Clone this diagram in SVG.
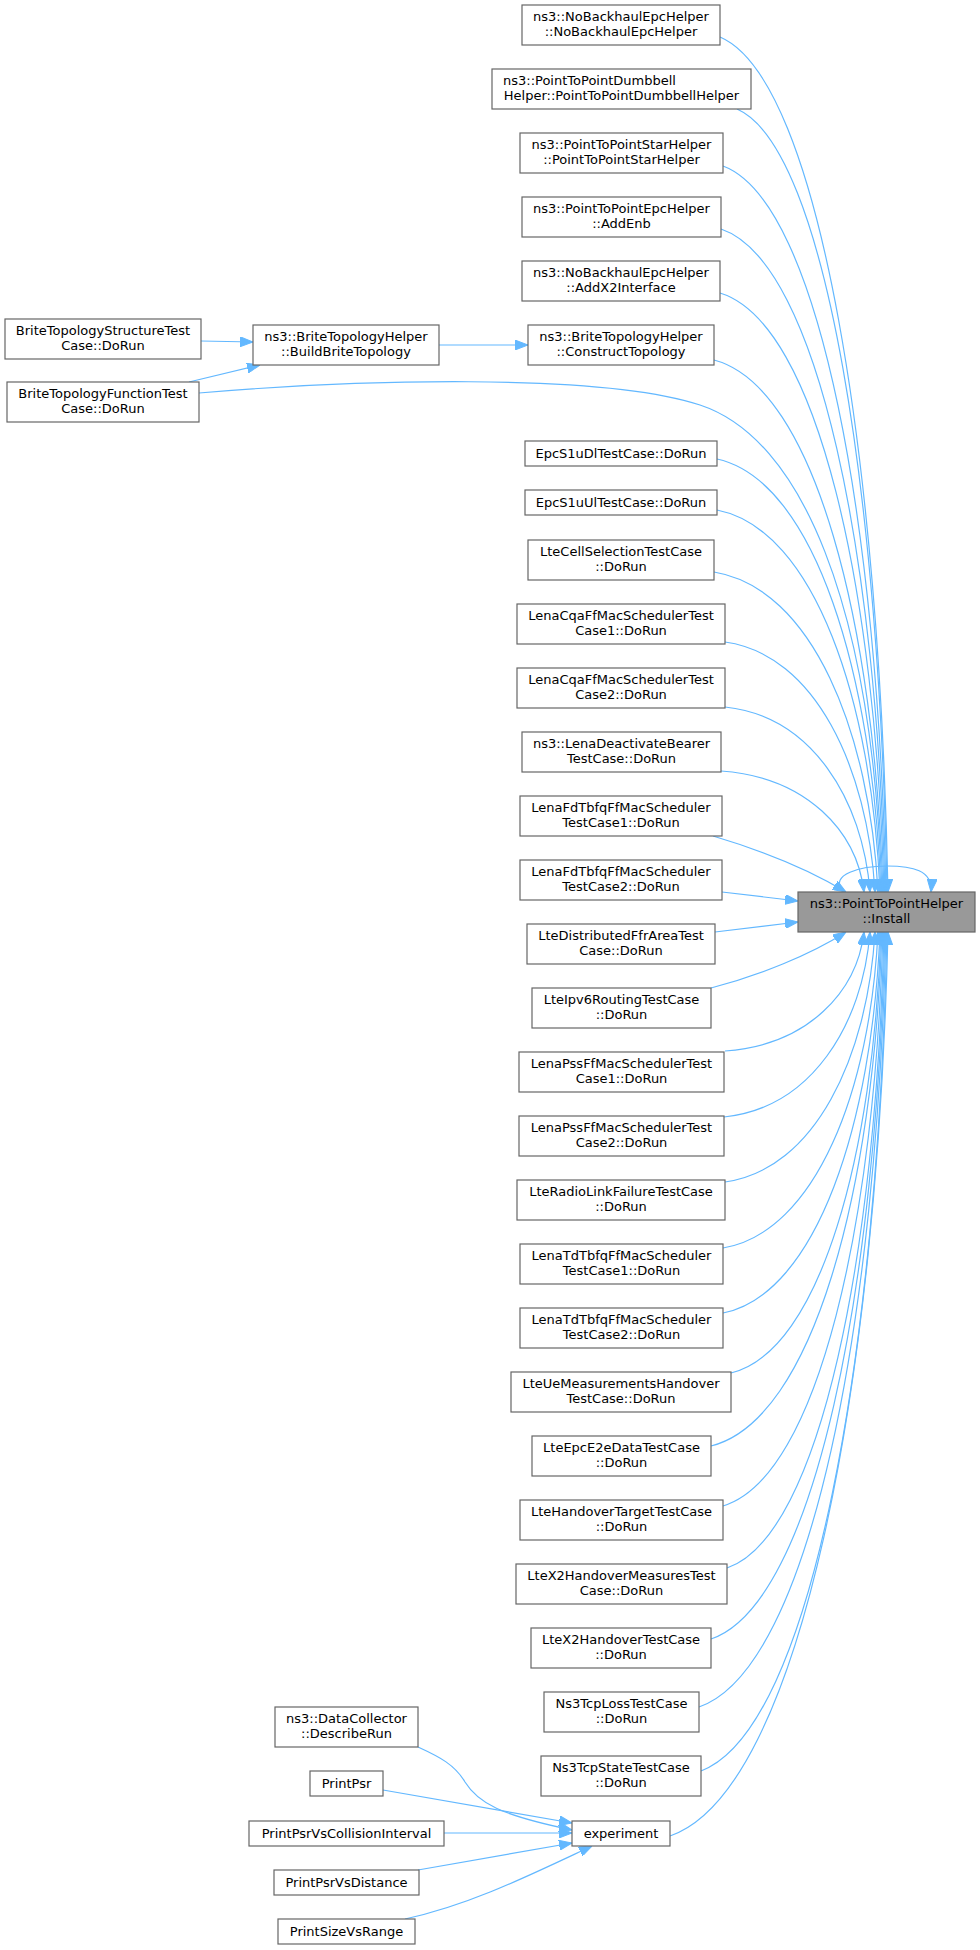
<svg xmlns="http://www.w3.org/2000/svg" width="980" height="1950" viewBox="0 0 980 1950">
<style>
.node rect{fill:#ffffff;stroke:#666666;stroke-width:1.2}
#n_install rect{fill:#999999;stroke:#666666}
text{font-family:"DejaVu Sans","Liberation Sans",sans-serif;font-size:13px;fill:#000;text-anchor:middle}
.edges path{fill:none;stroke:#63b8ff;stroke-width:1.2;marker-end:url(#ah)}
</style>
<defs>
<marker id="ah" markerUnits="userSpaceOnUse" markerWidth="13" markerHeight="10" refX="13" refY="5" orient="auto">
<path d="M0,0 L13,5 L0,10 z" fill="#63b8ff" stroke="#63b8ff" stroke-width="1"/>
</marker>
</defs>
<rect width="980" height="1950" fill="#ffffff"/>
<g class="edges">
<path d="M720,37 C820.8,79.8 879.6,464.5 888,892"/>
<path d="M737,109 C827,148.2 879.5,500.5 887,892"/>
<path d="M723,166 C820.8,202.3 877.9,529 886,892"/>
<path d="M721,229 C819.4,262.2 876.8,560.5 885,892"/>
<path d="M720,293 C818.4,323 875.8,592.5 884,892"/>
<path d="M714,360 C815.4,386.6 874.6,626 883,892"/>
<path d="M199,393 C350,380 600,372 700,405 C800,438 872,600 882,892"/>
<path d="M717,459 C815.4,480.7 872.8,675.5 881,892"/>
<path d="M717,510 C814.8,529.1 871.9,701 880,892"/>
<path d="M714,572 C812.4,588 869.8,732 878,892"/>
<path d="M725,642 C815,654.5 867.5,767 875,892"/>
<path d="M725,707 C812,716.3 862.8,799.5 870,892"/>
<path d="M721,771 C806.8,777 856.9,831.5 864,892"/>
<path d="M713,836 C760,850 810,870 846,892"/>
<path d="M722,892 L798,901"/>
<path d="M715,932 L798,922"/>
<path d="M711,988 C760,975 810,955 846,932"/>
<path d="M725,1051 C808.4,1045 857,991.5 864,932"/>
<path d="M724,1117 C811.6,1107.8 862.7,1024.5 870,932"/>
<path d="M725,1182 C815,1169.5 867.5,1057 875,932"/>
<path d="M723,1248 C816,1232.2 870.3,1090 878,932"/>
<path d="M723,1313 C817.2,1294 872.2,1122.5 880,932"/>
<path d="M731,1373 C821,1351 873.5,1152.5 881,932"/>
<path d="M711,1446 C813.6,1420.3 873.5,1189 882,932"/>
<path d="M723,1506 C819,1477.3 875,1219 883,932"/>
<path d="M727,1568 C821.2,1536.2 876.2,1250 884,932"/>
<path d="M711,1639 C815.4,1603.7 876.3,1285.5 885,932"/>
<path d="M699,1707 C811.2,1668.3 876.7,1319.5 886,932"/>
<path d="M701,1771 C812.6,1729 877.7,1351.5 887,932"/>
<path d="M670,1836 C800.8,1790.8 877.1,1384 888,932"/>
<path d="M843,892 C828,874 862,866 887,866 C912,866 933,870 931,892"/>
<path d="M201,341 L253,342"/>
<path d="M189,382 L260,365"/>
<path d="M439,345 L528,345"/>
<path d="M418,1747 C440,1757 455,1765 465,1782 C478,1803 500,1815 572,1830"/>
<path d="M383,1790 L572,1823"/>
<path d="M444,1833 L572,1833"/>
<path d="M418,1870 L572,1843"/>
<path d="M405,1919 C470,1905 530,1875 592,1846"/>
</g>
<g id="n_install" class="node"><rect x="798" y="892" width="177" height="40"/><text x="886.5" y="908">ns3::PointToPointHelper</text><text x="886.5" y="923">::Install</text></g>
<g id="n_nobackhaul_ctor" class="node"><rect x="522" y="5" width="198" height="40"/><text x="621" y="21">ns3::NoBackhaulEpcHelper</text><text x="621" y="36">::NoBackhaulEpcHelper</text></g>
<g id="n_dumbbell" class="node"><rect x="492" y="69" width="259" height="40"/><text x="503" y="85" style="text-anchor:start">ns3::PointToPointDumbbell</text><text x="621.5" y="100">Helper::PointToPointDumbbellHelper</text></g>
<g id="n_star" class="node"><rect x="520" y="133" width="203" height="40"/><text x="621.5" y="149">ns3::PointToPointStarHelper</text><text x="621.5" y="164">::PointToPointStarHelper</text></g>
<g id="n_addenb" class="node"><rect x="522" y="197" width="199" height="40"/><text x="621.5" y="213">ns3::PointToPointEpcHelper</text><text x="621.5" y="228">::AddEnb</text></g>
<g id="n_addx2" class="node"><rect x="522" y="261" width="198" height="40"/><text x="621" y="277">ns3::NoBackhaulEpcHelper</text><text x="621" y="292">::AddX2Interface</text></g>
<g id="n_construct" class="node"><rect x="528" y="325" width="186" height="40"/><text x="621" y="341">ns3::BriteTopologyHelper</text><text x="621" y="356">::ConstructTopology</text></g>
<g id="n_build" class="node"><rect x="253" y="325" width="186" height="40"/><text x="346" y="341">ns3::BriteTopologyHelper</text><text x="346" y="356">::BuildBriteTopology</text></g>
<g id="n_brite_struct" class="node"><rect x="5" y="319" width="196" height="40"/><text x="103" y="335">BriteTopologyStructureTest</text><text x="103" y="350">Case::DoRun</text></g>
<g id="n_brite_func" class="node"><rect x="7" y="382" width="192" height="40"/><text x="103" y="398">BriteTopologyFunctionTest</text><text x="103" y="413">Case::DoRun</text></g>
<g id="n_epcdl" class="node"><rect x="525" y="441" width="192" height="25"/><text x="621" y="458">EpcS1uDlTestCase::DoRun</text></g>
<g id="n_epcul" class="node"><rect x="525" y="490" width="192" height="25"/><text x="621" y="507">EpcS1uUlTestCase::DoRun</text></g>
<g id="n_cellsel" class="node"><rect x="528" y="540" width="186" height="40"/><text x="621" y="556">LteCellSelectionTestCase</text><text x="621" y="571">::DoRun</text></g>
<g id="n_cqa1" class="node"><rect x="517" y="604" width="208" height="40"/><text x="621" y="620">LenaCqaFfMacSchedulerTest</text><text x="621" y="635">Case1::DoRun</text></g>
<g id="n_cqa2" class="node"><rect x="517" y="668" width="208" height="40"/><text x="621" y="684">LenaCqaFfMacSchedulerTest</text><text x="621" y="699">Case2::DoRun</text></g>
<g id="n_deact" class="node"><rect x="522" y="732" width="199" height="40"/><text x="621.5" y="748">ns3::LenaDeactivateBearer</text><text x="621.5" y="763">TestCase::DoRun</text></g>
<g id="n_fd1" class="node"><rect x="520" y="796" width="202" height="40"/><text x="621" y="812">LenaFdTbfqFfMacScheduler</text><text x="621" y="827">TestCase1::DoRun</text></g>
<g id="n_fd2" class="node"><rect x="520" y="860" width="202" height="40"/><text x="621" y="876">LenaFdTbfqFfMacScheduler</text><text x="621" y="891">TestCase2::DoRun</text></g>
<g id="n_ffr" class="node"><rect x="527" y="924" width="188" height="40"/><text x="621" y="940">LteDistributedFfrAreaTest</text><text x="621" y="955">Case::DoRun</text></g>
<g id="n_ipv6" class="node"><rect x="532" y="988" width="179" height="40"/><text x="621.5" y="1004">LteIpv6RoutingTestCase</text><text x="621.5" y="1019">::DoRun</text></g>
<g id="n_pss1" class="node"><rect x="519" y="1052" width="205" height="40"/><text x="621.5" y="1068">LenaPssFfMacSchedulerTest</text><text x="621.5" y="1083">Case1::DoRun</text></g>
<g id="n_pss2" class="node"><rect x="519" y="1116" width="205" height="40"/><text x="621.5" y="1132">LenaPssFfMacSchedulerTest</text><text x="621.5" y="1147">Case2::DoRun</text></g>
<g id="n_rlf" class="node"><rect x="517" y="1180" width="208" height="40"/><text x="621" y="1196">LteRadioLinkFailureTestCase</text><text x="621" y="1211">::DoRun</text></g>
<g id="n_td1" class="node"><rect x="520" y="1244" width="203" height="40"/><text x="621.5" y="1260">LenaTdTbfqFfMacScheduler</text><text x="621.5" y="1275">TestCase1::DoRun</text></g>
<g id="n_td2" class="node"><rect x="520" y="1308" width="203" height="40"/><text x="621.5" y="1324">LenaTdTbfqFfMacScheduler</text><text x="621.5" y="1339">TestCase2::DoRun</text></g>
<g id="n_uemeas" class="node"><rect x="511" y="1372" width="220" height="40"/><text x="621" y="1388">LteUeMeasurementsHandover</text><text x="621" y="1403">TestCase::DoRun</text></g>
<g id="n_e2e" class="node"><rect x="532" y="1436" width="179" height="40"/><text x="621.5" y="1452">LteEpcE2eDataTestCase</text><text x="621.5" y="1467">::DoRun</text></g>
<g id="n_hotarget" class="node"><rect x="520" y="1500" width="203" height="40"/><text x="621.5" y="1516">LteHandoverTargetTestCase</text><text x="621.5" y="1531">::DoRun</text></g>
<g id="n_x2meas" class="node"><rect x="516" y="1564" width="211" height="40"/><text x="621.5" y="1580">LteX2HandoverMeasuresTest</text><text x="621.5" y="1595">Case::DoRun</text></g>
<g id="n_x2ho" class="node"><rect x="531" y="1628" width="180" height="40"/><text x="621" y="1644">LteX2HandoverTestCase</text><text x="621" y="1659">::DoRun</text></g>
<g id="n_tcploss" class="node"><rect x="544" y="1692" width="155" height="40"/><text x="621.5" y="1708">Ns3TcpLossTestCase</text><text x="621.5" y="1723">::DoRun</text></g>
<g id="n_tcpstate" class="node"><rect x="541" y="1756" width="160" height="40"/><text x="621" y="1772">Ns3TcpStateTestCase</text><text x="621" y="1787">::DoRun</text></g>
<g id="n_experiment" class="node"><rect x="572" y="1821" width="98" height="25"/><text x="621" y="1838">experiment</text></g>
<g id="n_describe" class="node"><rect x="275" y="1707" width="143" height="40"/><text x="346.5" y="1723">ns3::DataCollector</text><text x="346.5" y="1738">::DescribeRun</text></g>
<g id="n_printpsr" class="node"><rect x="310" y="1771" width="73" height="25"/><text x="346.5" y="1788">PrintPsr</text></g>
<g id="n_collision" class="node"><rect x="249" y="1821" width="195" height="25"/><text x="346.5" y="1838">PrintPsrVsCollisionInterval</text></g>
<g id="n_distance" class="node"><rect x="274" y="1870" width="145" height="25"/><text x="346.5" y="1887">PrintPsrVsDistance</text></g>
<g id="n_size" class="node"><rect x="278" y="1919" width="137" height="25"/><text x="346.5" y="1936">PrintSizeVsRange</text></g>
</svg>
